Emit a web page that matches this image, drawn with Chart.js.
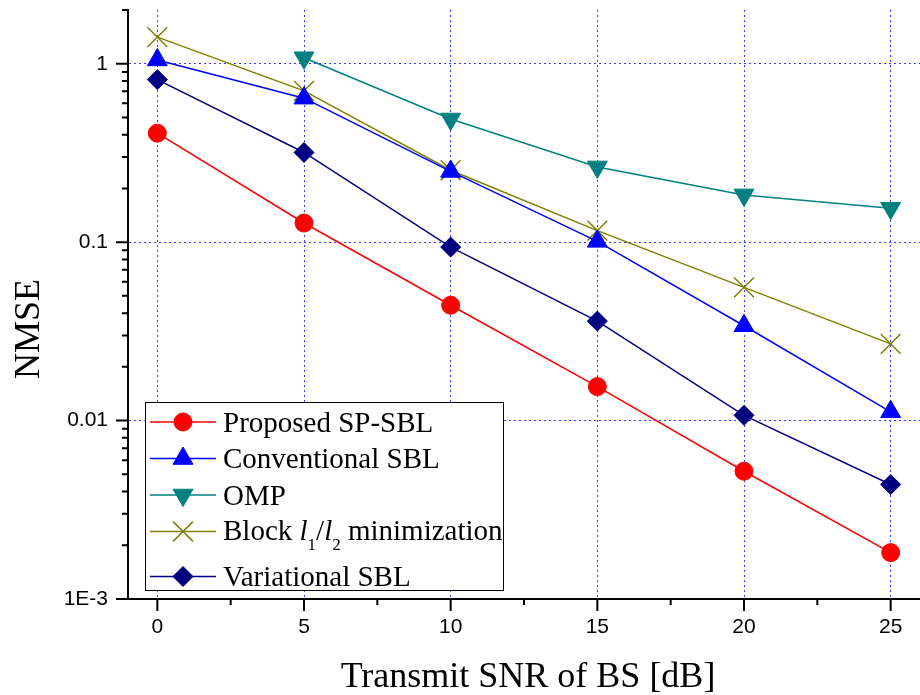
<!DOCTYPE html>
<html>
<head>
<meta charset="utf-8">
<script src="https://cdn.jsdelivr.net/npm/chart.js@4.4.0/dist/chart.umd.min.js"></script>
<style>
  html, body { margin: 0; padding: 0; background: #fff; }
</style>
</head>
<body>
<canvas id="myChart" width="920" height="695"></canvas>
<script>
// transmit SNR [dB]
const snr = [0, 5, 10, 15, 20, 25]

// NMSE per method
const proposed     = [0.408, 0.128, 0.0443, 0.0155, 0.0052, 0.00182]
const conventional = [1.05, 0.641, 0.249, 0.101, 0.034, 0.0112]
const omp          = [null, 1.08, 0.49, 0.264, 0.184, 0.155]
const blockL1L2    = [1.41, 0.704, 0.253, 0.116, 0.0558, 0.0269]
const variational  = [0.815, 0.318, 0.0938, 0.0361, 0.0107, 0.00438]

const seriesNames = ['Proposed SP-SBL', 'Conventional SBL', 'OMP', 'Block l1/l2 minimization', 'Variational SBL']

const xTicks = [0, 5, 10, 15, 20, 25]
const yTicks = [0.001, 0.01, 0.1, 1]
const yTickLabels = ['1E-3', '0.01', '0.1', '1']

const serif = '"Liberation Serif", "Times New Roman", serif'
const sans = '"Liberation Sans", Arial, sans-serif'

function mkSet(label, values, color, style, radius, extra) {
    return Object.assign({
        label: label,
        data: values,
        borderColor: color,
        backgroundColor: color,
        borderWidth: 1.5,
        pointStyle: style,
        pointRadius: radius,
        pointBorderWidth: 1,
        pointBackgroundColor: color,
        pointBorderColor: color,
        tension: 0
    }, extra || {})
}

const datasets = [
    mkSet(seriesNames[0], proposed, '#ff0000', 'circle', 9),
    mkSet(seriesNames[1], conventional, '#0000ff', 'triangle', 11.5),
    mkSet(seriesNames[2], omp, '#008080', 'triangle', 11.5, {pointRotation: 180}),
    mkSet(seriesNames[3], blockL1L2, '#808000', 'crossRot', 14, {pointBorderWidth: 1.5}),
    mkSet(seriesNames[4], variational, '#000080', 'rectRot', 10)
]

// split "l1" style names into italic l + subscript digit
function richParts(name) {
    const parts = []
    const re = /l(\d)/g
    let last = 0, m
    while ((m = re.exec(name)) !== null) {
        if (m.index > last) parts.push({t: name.slice(last, m.index)})
        parts.push({t: 'l', italic: true})
        parts.push({t: m[1], sub: true})
        last = re.lastIndex
    }
    if (last < name.length) parts.push({t: name.slice(last)})
    return parts
}

// chart.js reserves room for edge labels, we place the area ourselves
function noPad(s) {
    s.paddingTop = 0; s.paddingBottom = 0
    s.paddingLeft = 0; s.paddingRight = 0
}

const extras = {
    id: 'extras',
    afterDraw(chart) {
        const ctx = chart.ctx
        const a = chart.chartArea
        const xs = chart.scales.x
        const ys = chart.scales.y
        ctx.save()
        ctx.strokeStyle = '#000'
        ctx.lineWidth = 2
        ctx.beginPath()
        // x ticks, major + minor
        xTicks.forEach(v => {
            const px = xs.getPixelForValue(v)
            ctx.moveTo(px, a.bottom); ctx.lineTo(px, a.bottom + 12)
            const mpx = xs.getPixelForValue(v + 2.5)
            if (mpx < a.right) { ctx.moveTo(mpx, a.bottom); ctx.lineTo(mpx, a.bottom + 6) }
        })
        // y ticks, major + minor
        yTicks.forEach(d => {
            const py = ys.getPixelForValue(d)
            ctx.moveTo(a.left, py); ctx.lineTo(a.left - 12, py)
            for (let k = 2; k <= 9; k++) {
                const v = d * k
                if (v > ys.max) break
                const p = ys.getPixelForValue(v)
                ctx.moveTo(a.left, p); ctx.lineTo(a.left - 6, p)
            }
        })
        ctx.stroke()

        // axis titles
        ctx.fillStyle = '#000'
        ctx.font = '36px ' + serif
        ctx.textAlign = 'center'
        ctx.textBaseline = 'alphabetic'
        ctx.fillText('Transmit SNR of BS [dB]', (a.left + a.right) / 2 + 4, 687)
        ctx.save()
        ctx.translate(39, 329)
        ctx.rotate(-Math.PI / 2)
        ctx.fillText('NMSE', 0, 0)
        ctx.restore()

        // legend
        const lx = a.left + 17, ly = a.top + 392, lw = 358, lh = 188
        ctx.fillStyle = '#fff'
        ctx.fillRect(lx, ly, lw, lh)
        ctx.lineWidth = 1
        ctx.strokeStyle = '#000'
        ctx.strokeRect(lx + 0.5, ly + 0.5, lw, lh)

        let rowY = ly + 20
        chart.data.datasets.forEach(ds => {
            const parts = richParts(ds.label)
            const hasSub = parts.some(p => p.sub)
            // sample line
            ctx.strokeStyle = ds.borderColor
            ctx.lineWidth = ds.borderWidth
            ctx.beginPath()
            ctx.moveTo(lx + 5, rowY); ctx.lineTo(lx + 71, rowY)
            ctx.stroke()
            // marker
            ctx.fillStyle = ds.pointBackgroundColor
            ctx.strokeStyle = ds.pointBorderColor
            ctx.lineWidth = ds.pointBorderWidth
            Chart.helpers.drawPoint(ctx, {
                pointStyle: ds.pointStyle,
                radius: ds.pointRadius,
                rotation: ds.pointRotation || 0,
                borderWidth: ds.pointBorderWidth
            }, lx + 38, rowY)
            // label text
            ctx.fillStyle = '#000'
            ctx.textAlign = 'left'
            ctx.textBaseline = 'alphabetic'
            let tx = lx + 78
            const base = rowY + (hasSub ? 8 : 9.5)
            parts.forEach(p => {
                if (p.sub) {
                    ctx.font = '17px ' + serif
                    ctx.fillText(p.t, tx, base + 10)
                } else {
                    ctx.font = (p.italic ? 'italic ' : '') + '29px ' + serif
                    ctx.fillText(p.t, tx, base)
                }
                tx += ctx.measureText(p.t).width
            })
            rowY += hasSub ? 45 : 36.5
        })
        ctx.restore()
    }
}

const ctx = document.getElementById('myChart')

const nmseChart = new Chart(ctx, {
    type: 'line',
    data: {
        labels: snr,
        datasets: datasets.map(ds => Object.assign(ds, {data: ds.data.map((v, i) => ({x: snr[i], y: v}))}))
    },
    options: {
        responsive: false,
        animation: false,
        layout: { autoPadding: false, padding: { top: 10, right: 0, left: 0, bottom: 0 } },
        plugins: {
            legend: { display: false },
            tooltip: { enabled: false }
        },
        scales: {
            x: {
                type: 'linear',
                min: -1,
                max: 26,
                afterBuildTicks: s => { s.ticks = xTicks.map(v => ({value: v})) },
                afterFit: s => { s.height = 96; noPad(s) },
                grid: { color: '#3a3aff', lineWidth: 1, drawTicks: true, tickLength: 16, tickColor: 'rgba(0,0,0,0)' },
                border: { display: true, color: '#000', width: 2, dash: [2, 3] },
                ticks: { color: '#000', padding: 0, maxRotation: 0, font: { family: sans, size: 21 } }
            },
            y: {
                type: 'logarithmic',
                min: 0.001,
                max: 2,
                afterBuildTicks: s => { s.ticks = yTicks.map(v => ({value: v})) },
                afterFit: s => { s.width = 128; noPad(s) },
                grid: {
                    color: c => (c.tick && c.tick.value <= 0.001) ? 'rgba(0,0,0,0)' : '#3a3aff',
                    lineWidth: 1,
                    drawTicks: true,
                    tickLength: 20,
                    tickColor: 'rgba(0,0,0,0)'
                },
                border: { display: true, color: '#000', width: 2, dash: [2, 3] },
                ticks: {
                    color: '#000',
                    padding: 0,
                    font: { family: sans, size: 21 },
                    callback: (v, i) => yTickLabels[i]
                }
            }
        }
    },
    plugins: [extras]
})
</script>
</body>
</html>
